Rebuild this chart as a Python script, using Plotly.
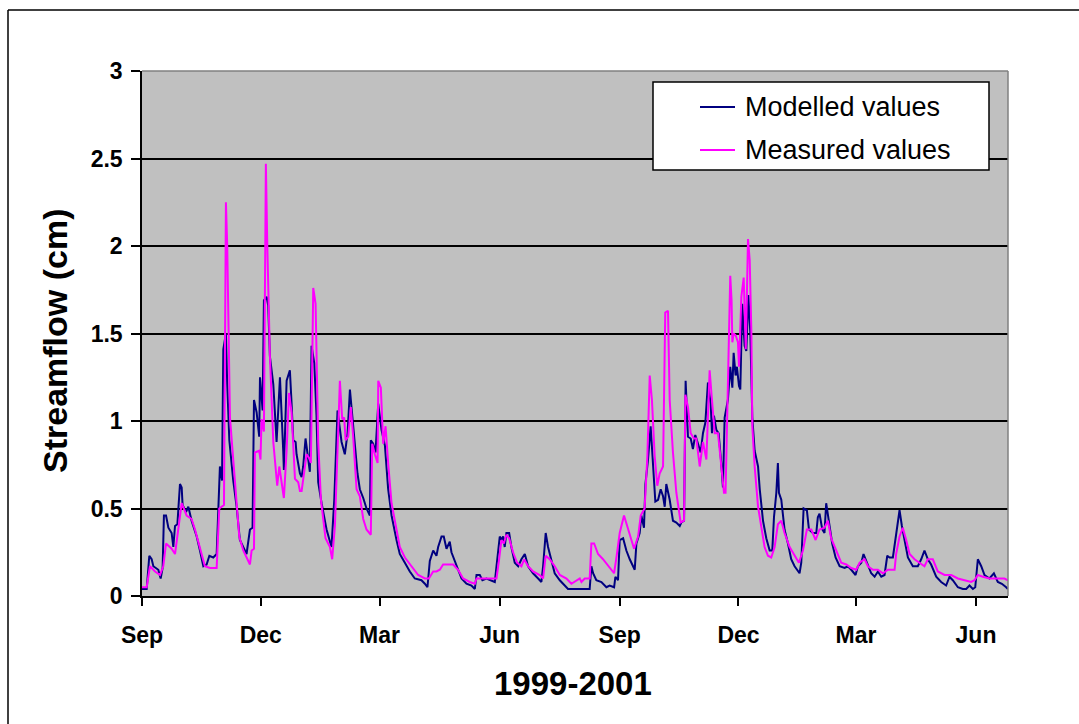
import pandas as pd
import plotly.graph_objects as go

# Daily streamflow record, Sep 1999 - Jun 2001.
# Each entry: (days since 1 Sep 1999, streamflow in cm)
START = pd.Timestamp("1999-09-01")
LAST_DAY = 663.5

modelled = [
    (0, 0.04), (3.6, 0.04), (5.6, 0.23), (7.4, 0.21), (8.7, 0.17), (12.5, 0.15), (14.3, 0.10),
    (15.8, 0.16), (16.8, 0.46), (18.4, 0.46), (20.2, 0.39), (22.7, 0.36), (24.0, 0.28), (25.3, 0.40),
    (27.1, 0.41), (29.1, 0.64), (30.4, 0.62), (31.1, 0.52), (33.7, 0.48), (35.5, 0.51), (38.0, 0.43),
    (41.9, 0.34), (44.4, 0.26), (47.0, 0.17), (49.5, 0.18), (51.6, 0.23), (54.6, 0.22), (57.2, 0.24),
    (59.7, 0.74), (61.3, 0.66), (62.3, 1.41), (64.3, 1.50), (65.3, 1.21), (66.9, 0.89), (69.9, 0.66),
    (72.5, 0.51), (75.0, 0.32), (80.1, 0.24), (82.7, 0.38), (84.7, 0.39), (85.8, 1.12), (87.8, 1.05),
    (89.8, 0.91), (90.4, 1.25), (92.4, 1.06), (93.4, 1.69), (95.5, 1.71), (96.7, 1.66), (98.0, 1.37),
    (100.6, 1.21), (103.1, 0.88), (105.7, 1.25), (108.2, 0.83), (108.7, 0.72), (110.8, 1.23),
    (113.3, 1.29), (114.6, 1.10), (115.9, 0.89), (117.7, 0.88), (118.4, 0.81), (121.0, 0.70),
    (122.3, 0.68), (123.5, 0.74), (125.3, 0.90), (127.4, 0.78), (128.6, 0.71), (129.9, 1.43),
    (132.0, 1.33), (133.7, 1.03), (135.0, 0.65), (137.6, 0.53), (141.4, 0.38), (145.2, 0.28),
    (147.3, 0.55), (149.8, 1.06), (151.6, 0.95), (152.9, 0.88), (155.4, 0.81), (157.5, 0.93),
    (159.3, 1.18), (160.5, 1.08), (163.1, 0.83), (165.1, 0.70), (166.9, 0.61), (169.5, 0.56),
    (172.0, 0.50), (174.6, 0.46), (175.3, 0.89), (177.1, 0.87), (178.9, 0.82), (181.0, 1.10),
    (183.5, 0.95), (186.1, 0.86), (188.6, 0.61), (191.2, 0.46), (195.0, 0.32), (197.5, 0.24),
    (201.4, 0.19), (205.2, 0.14), (209.0, 0.10), (214.1, 0.09), (216.7, 0.07), (218.7, 0.05),
    (220.5, 0.20), (223.1, 0.26), (225.6, 0.23), (226.9, 0.28), (229.5, 0.34), (231.2, 0.34),
    (233.3, 0.27), (235.8, 0.31), (237.1, 0.25), (240.9, 0.17), (244.8, 0.10), (248.6, 0.07),
    (252.4, 0.06), (255.0, 0.04), (256.3, 0.12), (258.8, 0.12), (260.8, 0.09), (263.9, 0.10),
    (267.7, 0.09), (270.3, 0.08), (271.6, 0.17), (274.1, 0.34), (275.4, 0.32), (276.7, 0.34),
    (277.9, 0.28), (279.2, 0.36), (281.3, 0.36), (283.0, 0.28), (285.6, 0.19), (288.2, 0.17),
    (290.7, 0.21), (293.3, 0.24), (295.8, 0.17), (299.6, 0.13), (303.5, 0.10), (306.0, 0.08),
    (307.3, 0.17), (309.3, 0.36), (311.1, 0.28), (313.7, 0.21), (316.2, 0.13), (320.1, 0.09),
    (323.9, 0.06), (326.4, 0.04), (335.4, 0.04), (339.2, 0.04), (343.0, 0.04), (344.3, 0.17),
    (345.6, 0.13), (348.1, 0.09), (352.0, 0.08), (355.8, 0.05), (358.3, 0.06), (361.7, 0.05),
    (362.7, 0.11), (364.7, 0.09), (366.0, 0.32), (368.6, 0.33), (371.1, 0.26), (373.7, 0.21),
    (376.2, 0.17), (377.5, 0.15), (378.8, 0.30), (381.3, 0.36), (382.6, 0.46), (384.6, 0.39),
    (385.7, 0.64), (387.7, 0.78), (389.7, 0.97), (391.5, 0.74), (393.3, 0.54), (395.4, 0.55),
    (397.4, 0.61), (399.2, 0.57), (400.5, 0.51), (401.7, 0.64), (404.3, 0.55), (406.8, 0.43),
    (409.4, 0.42), (412.0, 0.40), (413.2, 0.42), (415.3, 0.43), (416.5, 1.23), (418.3, 0.91),
    (420.4, 0.90), (422.1, 0.84), (423.9, 0.92), (426.0, 0.87), (428.0, 0.82), (429.8, 0.93),
    (431.6, 0.99), (433.6, 1.22), (435.7, 1.10), (436.7, 0.93), (438.2, 1.03), (440.0, 0.95),
    (441.8, 0.93), (443.8, 0.76), (445.1, 0.62), (446.4, 1.02), (448.9, 1.12), (450.7, 1.31),
    (452.3, 1.19), (453.3, 1.39), (454.8, 1.26), (455.8, 1.31), (457.4, 1.20), (458.4, 1.18),
    (459.9, 1.67), (461.7, 1.43), (463.0, 1.40), (464.6, 1.72), (466.1, 1.50), (467.6, 1.02),
    (469.4, 0.83), (472.0, 0.74), (473.3, 0.61), (475.8, 0.43), (478.3, 0.33), (480.9, 0.26),
    (482.9, 0.26), (484.2, 0.45), (486.0, 0.59), (487.2, 0.76), (488.0, 0.59), (489.8, 0.55),
    (492.3, 0.38), (494.9, 0.30), (497.4, 0.21), (500.0, 0.17), (503.8, 0.13), (505.1, 0.19),
    (506.9, 0.50), (509.4, 0.49), (511.0, 0.38), (514.0, 0.36), (516.6, 0.36), (517.8, 0.45),
    (519.1, 0.47), (521.2, 0.38), (522.9, 0.36), (524.2, 0.53), (526.3, 0.43), (528.8, 0.30),
    (531.4, 0.22), (534.5, 0.17), (538.3, 0.16), (540.8, 0.17), (543.4, 0.15), (546.7, 0.12),
    (548.5, 0.17), (551.1, 0.19), (552.8, 0.24), (556.2, 0.17), (558.7, 0.13), (561.3, 0.11),
    (563.8, 0.14), (566.4, 0.11), (568.9, 0.12), (571.0, 0.23), (572.7, 0.22), (575.3, 0.22),
    (577.8, 0.36), (580.4, 0.49), (582.2, 0.40), (584.2, 0.32), (586.8, 0.22), (590.6, 0.17),
    (594.4, 0.17), (597.0, 0.21), (599.5, 0.26), (602.1, 0.21), (604.6, 0.18), (608.5, 0.11),
    (612.3, 0.08), (616.1, 0.06), (618.7, 0.11), (621.2, 0.09), (625.1, 0.05), (628.9, 0.04),
    (631.5, 0.04), (634.0, 0.06), (636.6, 0.04), (638.4, 0.05), (640.4, 0.21), (643.0, 0.17),
    (645.5, 0.12), (649.3, 0.10), (652.7, 0.13), (655.7, 0.08), (658.8, 0.07), (662.1, 0.05),
    (663.4, 0.04),
]

measured = [
    (0, 0.05), (3.6, 0.05), (6.1, 0.17), (10.0, 0.14), (13.8, 0.12), (16.3, 0.17), (18.4, 0.30),
    (22.7, 0.27), (25.3, 0.24), (27.8, 0.38), (30.4, 0.53), (34.2, 0.46), (38.0, 0.44), (40.6, 0.38),
    (44.4, 0.28), (48.2, 0.17), (52.1, 0.16), (57.2, 0.16), (59.2, 0.50), (62.8, 0.52), (64.3, 2.25),
    (65.3, 2.00), (67.4, 1.02), (69.9, 0.76), (72.5, 0.53), (74.5, 0.34), (77.6, 0.26), (82.7, 0.18),
    (84.0, 0.26), (85.8, 0.27), (86.5, 0.82), (89.8, 0.83), (90.8, 0.78), (91.6, 1.01), (93.4, 0.94),
    (94.9, 2.47), (96.0, 2.00), (98.0, 1.37), (100.6, 0.88), (103.6, 0.63), (105.2, 0.74),
    (108.7, 0.56), (110.8, 0.83), (112.6, 1.16), (114.6, 1.05), (117.2, 0.67), (119.7, 0.65),
    (121.0, 0.60), (122.3, 0.60), (124.8, 0.72), (126.1, 0.81), (127.9, 0.79), (129.4, 0.76),
    (131.2, 1.76), (133.0, 1.67), (135.0, 0.88), (137.1, 0.55), (140.6, 0.33), (144.0, 0.28),
    (145.7, 0.21), (147.8, 0.40), (149.8, 0.83), (151.6, 1.23), (153.4, 1.01), (154.9, 1.02),
    (156.0, 0.89), (158.0, 0.91), (160.0, 1.08), (161.8, 0.91), (164.4, 0.61), (166.9, 0.57),
    (169.5, 0.44), (172.0, 0.38), (175.3, 0.35), (176.4, 0.87), (178.4, 0.81), (180.5, 0.76),
    (181.0, 1.23), (183.0, 1.19), (184.8, 0.87), (186.6, 0.97), (188.6, 0.76), (191.2, 0.53),
    (195.0, 0.38), (197.5, 0.28), (201.4, 0.22), (206.5, 0.17), (211.6, 0.12), (216.7, 0.10),
    (219.8, 0.10), (223.1, 0.14), (225.6, 0.14), (228.2, 0.15), (230.7, 0.18), (234.6, 0.18),
    (238.4, 0.18), (242.2, 0.15), (246.0, 0.10), (251.1, 0.08), (255.0, 0.07), (256.3, 0.10),
    (271.6, 0.10), (273.6, 0.21), (275.4, 0.32), (277.2, 0.30), (279.2, 0.35), (281.3, 0.33),
    (284.3, 0.25), (287.4, 0.19), (290.7, 0.17), (292.8, 0.21), (295.8, 0.17), (299.6, 0.14),
    (304.7, 0.12), (307.3, 0.10), (309.3, 0.23), (312.4, 0.21), (316.2, 0.17), (320.1, 0.12),
    (325.2, 0.10), (329.0, 0.07), (332.8, 0.09), (335.4, 0.10), (336.7, 0.08), (339.2, 0.10),
    (343.0, 0.10), (344.3, 0.30), (346.4, 0.30), (349.4, 0.24), (353.2, 0.21), (357.1, 0.17),
    (361.7, 0.13), (363.5, 0.22), (366.0, 0.36), (369.3, 0.46), (371.9, 0.40), (374.4, 0.33),
    (377.0, 0.27), (380.1, 0.34), (382.1, 0.46), (385.1, 0.50), (387.2, 0.80), (389.0, 1.26),
    (390.7, 1.12), (392.8, 0.80), (394.8, 0.63), (396.6, 0.70), (399.2, 0.74), (400.9, 1.62),
    (403.0, 1.63), (404.3, 1.12), (406.8, 0.82), (409.4, 0.59), (412.7, 0.42), (415.3, 0.43),
    (416.3, 1.15), (418.3, 1.08), (420.4, 0.93), (422.9, 0.90), (424.7, 0.90), (427.3, 0.74),
    (429.8, 0.88), (432.4, 0.78), (434.9, 1.29), (436.7, 1.12), (438.8, 0.93), (441.3, 0.93),
    (443.8, 0.74), (445.9, 0.59), (447.1, 0.59), (448.2, 1.02), (449.7, 1.45), (450.7, 1.83),
    (451.7, 1.69), (452.3, 1.45), (453.3, 1.50), (454.8, 1.49), (456.6, 1.45), (457.4, 1.31),
    (459.2, 1.71), (461.0, 1.82), (462.6, 1.41), (464.3, 2.04), (465.6, 1.92), (466.9, 1.50),
    (467.6, 0.97), (469.4, 0.74), (472.0, 0.51), (474.5, 0.38), (477.0, 0.28), (479.6, 0.23),
    (482.1, 0.22), (484.7, 0.28), (487.2, 0.41), (489.8, 0.43), (492.3, 0.36), (496.2, 0.28),
    (500.0, 0.23), (503.3, 0.19), (506.4, 0.26), (509.4, 0.38), (512.8, 0.38), (516.1, 0.32),
    (519.1, 0.38), (522.9, 0.39), (525.5, 0.43), (528.0, 0.33), (531.9, 0.26), (535.7, 0.19),
    (539.6, 0.18), (543.4, 0.16), (547.2, 0.15), (549.8, 0.19), (553.6, 0.21), (556.2, 0.17),
    (560.0, 0.15), (563.8, 0.15), (567.7, 0.13), (571.5, 0.15), (576.6, 0.15), (577.8, 0.24),
    (580.4, 0.34), (582.9, 0.39), (585.5, 0.32), (588.1, 0.24), (591.9, 0.21), (595.7, 0.19),
    (599.5, 0.17), (602.1, 0.21), (605.9, 0.21), (609.7, 0.14), (614.9, 0.12), (620.0, 0.12),
    (625.1, 0.10), (630.2, 0.09), (635.3, 0.08), (637.8, 0.09), (640.4, 0.12), (644.2, 0.11),
    (649.3, 0.10), (655.7, 0.10), (660.8, 0.10), (663.4, 0.09),
]

series_names = ["Modelled values", "Measured values"]
series_colors = ["#000080", "#FF00FF"]
y_title = "Streamflow (cm)"
x_title = "1999-2001"


def as_dates(days):
    return START + pd.to_timedelta(list(days), unit="D")


FONT = "Liberation Sans, Arial, sans-serif"
W, H = 1079, 724
PLOT_L, PLOT_R, PLOT_T, PLOT_B = 142, 1008, 71, 596


def px(x):
    return (x - PLOT_L) / (PLOT_R - PLOT_L)


def py(y):
    return (PLOT_B - y) / (PLOT_B - PLOT_T)


fig = go.Figure()
for data, name, color in zip([modelled, measured], series_names, series_colors):
    days, vals = zip(*data)
    fig.add_trace(go.Scatter(
        x=as_dates(days), y=list(vals), mode="lines", name=name,
        line=dict(color=color, width=2), showlegend=False,
    ))

shapes = [
    # outer chart frame (top and left edges; the rest runs off the page)
    dict(type="line", xref="paper", yref="paper", x0=px(8), x1=px(W + 20), y0=py(10), y1=py(10),
         line=dict(color="black", width=1.5), layer="above"),
    dict(type="line", xref="paper", yref="paper", x0=px(8), x1=px(8), y0=py(10), y1=py(H + 20),
         line=dict(color="black", width=1.5), layer="above"),
    # grey top and right borders of the plot area
    dict(type="line", xref="paper", yref="paper", x0=0, x1=1, y0=1, y1=1,
         line=dict(color="#808080", width=1.5), layer="above"),
    dict(type="line", xref="paper", yref="paper", x0=1, x1=1, y0=0, y1=1,
         line=dict(color="#808080", width=1.5), layer="above"),
    # legend box
    dict(type="rect", xref="paper", yref="paper", x0=px(653), y0=py(170), x1=px(989), y1=py(82),
         fillcolor="white", line=dict(color="black", width=1.5), layer="above"),
]
annotations = []
for i, (name, color) in enumerate(zip(series_names, series_colors)):
    ly = 107 + 43 * i
    shapes.append(dict(type="line", xref="paper", yref="paper", x0=px(700), x1=px(735),
                       y0=py(ly), y1=py(ly), line=dict(color=color, width=2), layer="above"))
    annotations.append(dict(xref="paper", yref="paper", x=px(743), y=py(ly), text=name,
                            showarrow=False, xanchor="left", yanchor="middle",
                            font=dict(family=FONT, size=27, color="black")))

annotations.append(dict(xref="paper", yref="paper", x=px(55), y=py(341), text=y_title,
                        textangle=-90, showarrow=False, xanchor="center", yanchor="middle",
                        font=dict(family=FONT, size=34, color="black", weight="bold")))
annotations.append(dict(xref="paper", yref="paper", x=px(573), y=py(683), text=x_title,
                        showarrow=False, xanchor="center", yanchor="middle",
                        font=dict(family=FONT, size=33, color="black", weight="bold")))

end = START + pd.Timedelta(days=LAST_DAY)
fig.update_layout(
    width=W, height=H,
    margin=dict(l=PLOT_L, r=W - PLOT_R, t=PLOT_T, b=H - PLOT_B, pad=0),
    paper_bgcolor="white", plot_bgcolor="#C0C0C0",
    font=dict(family=FONT, color="black"),
    shapes=shapes, annotations=annotations,
    xaxis=dict(
        type="date", range=[START, end], tick0="1999-09-01", dtick="M3", tickformat="%b",
        ticks="outside", ticklen=8, tickwidth=1.5, tickcolor="black", ticklabelstandoff=10,
        showline=True, linecolor="black", linewidth=1.5, showgrid=False, zeroline=False,
        tickfont=dict(family=FONT, size=23, color="black", weight="bold"),
    ),
    yaxis=dict(
        range=[0, 3], tick0=0, dtick=0.5,
        ticks="outside", ticklen=9, tickwidth=1.5, tickcolor="black", ticklabelstandoff=4,
        showline=True, linecolor="black", linewidth=1.5,
        showgrid=True, gridcolor="black", gridwidth=1.5, zeroline=False,
        tickfont=dict(family=FONT, size=23, color="black", weight="bold"),
    ),
)

fig.write_html("out.html")
